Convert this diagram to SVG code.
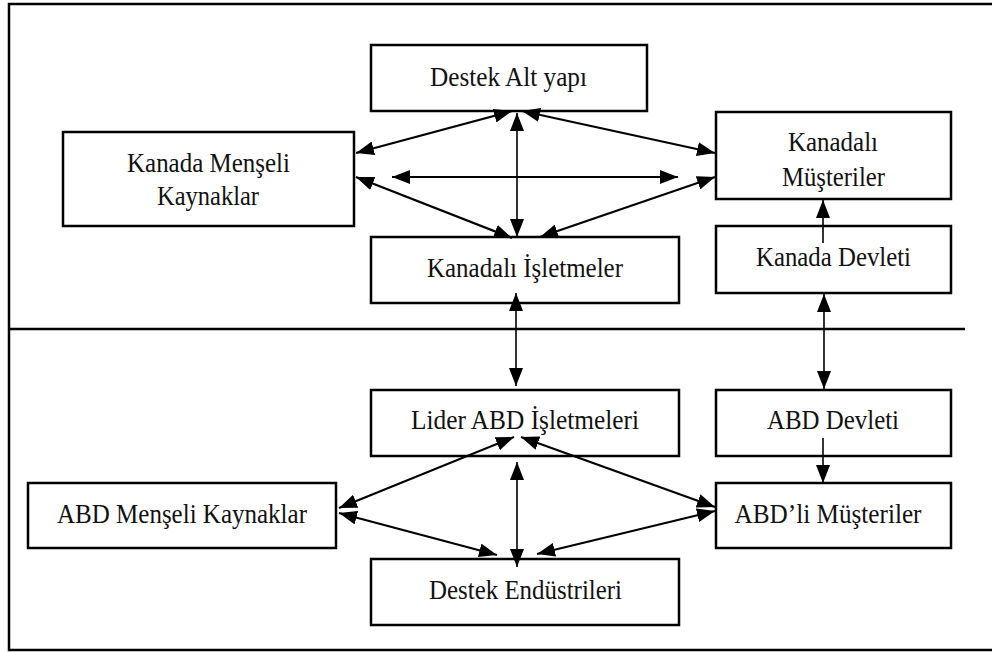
<svg xmlns="http://www.w3.org/2000/svg" width="992" height="652" viewBox="0 0 992 652">
<defs>
<style>
.box{fill:#fff;stroke:#000;stroke-width:2.5}
.frame{fill:none;stroke:#000;stroke-width:2.5}
.lbl{font-family:"Liberation Serif","Times New Roman",serif;font-size:28px;fill:#111;text-anchor:middle}
.c{fill:none;stroke:#000;stroke-width:2.2}
.v{fill:none;stroke:#000;stroke-width:1.6}
</style>
<marker id="ah" viewBox="0 0 18 14" markerWidth="18" markerHeight="14" refX="18" refY="7" orient="auto-start-reverse" markerUnits="userSpaceOnUse">
<path d="M0,0 L18,7 L0,14 z" fill="#000"/>
</marker>
</defs>
<rect width="992" height="652" fill="#fff"/>
<path class="frame" d="M992,4 H9 V650 H992"/>
<line x1="9" y1="329" x2="965" y2="329" stroke="#000" stroke-width="2.5"/>

<g id="destek-alt-yapi">
<rect class="box" x="371" y="45" width="276" height="66"/>
<text class="lbl" x="508.5" y="86" textLength="157" lengthAdjust="spacingAndGlyphs">Destek Alt yapı</text>
</g>
<g id="kanada-menseli">
<rect class="box" x="63" y="132" width="291" height="94"/>
<text class="lbl" x="208.5" y="172" textLength="163" lengthAdjust="spacingAndGlyphs">Kanada Menşeli</text>
<text class="lbl" x="208" y="205" textLength="102" lengthAdjust="spacingAndGlyphs">Kaynaklar</text>
</g>
<g id="kanadali-musteriler">
<rect class="box" x="716" y="112" width="235" height="87"/>
<text class="lbl" x="833" y="151" textLength="90" lengthAdjust="spacingAndGlyphs">Kanadalı</text>
<text class="lbl" x="833.5" y="186" textLength="103" lengthAdjust="spacingAndGlyphs">Müşteriler</text>
</g>
<g id="kanadali-isletmeler">
<rect class="box" x="371" y="237" width="308" height="66"/>
<text class="lbl" x="525" y="277" textLength="196" lengthAdjust="spacingAndGlyphs">Kanadalı İşletmeler</text>
</g>
<g id="kanada-devleti">
<rect class="box" x="716" y="226" width="235" height="67"/>
<text class="lbl" x="833.5" y="266" textLength="155" lengthAdjust="spacingAndGlyphs">Kanada Devleti</text>
</g>
<g id="lider-abd">
<rect class="box" x="371" y="390" width="308" height="66"/>
<text class="lbl" x="525" y="429" textLength="228" lengthAdjust="spacingAndGlyphs">Lider ABD İşletmeleri</text>
</g>
<g id="abd-devleti">
<rect class="box" x="716" y="390" width="235" height="66"/>
<text class="lbl" x="833" y="429" textLength="132" lengthAdjust="spacingAndGlyphs">ABD Devleti</text>
</g>
<g id="abd-menseli">
<rect class="box" x="28" y="483" width="308" height="65"/>
<text class="lbl" x="182" y="523" textLength="250" lengthAdjust="spacingAndGlyphs">ABD Menşeli Kaynaklar</text>
</g>
<g id="abd-musteriler">
<rect class="box" x="716" y="483" width="235" height="65"/>
<text class="lbl" x="828" y="523" textLength="187" lengthAdjust="spacingAndGlyphs">ABD’li Müşteriler</text>
</g>
<g id="destek-endustrileri">
<rect class="box" x="371" y="559" width="308" height="66"/>
<text class="lbl" x="525.5" y="599" textLength="193" lengthAdjust="spacingAndGlyphs">Destek Endüstrileri</text>
</g>

<g id="connectors">
<line class="c" x1="512" y1="111" x2="356" y2="153" marker-start="url(#ah)" marker-end="url(#ah)"/>
<line class="c" x1="522" y1="111" x2="715" y2="153" marker-start="url(#ah)" marker-end="url(#ah)"/>
<line class="c" x1="392" y1="177" x2="678" y2="177" marker-start="url(#ah)" marker-end="url(#ah)"/>
<line class="c" x1="356" y1="177" x2="512" y2="238" marker-start="url(#ah)" marker-end="url(#ah)"/>
<line class="c" x1="715" y1="177" x2="540" y2="237" marker-start="url(#ah)" marker-end="url(#ah)"/>
<line class="v" x1="517" y1="113" x2="517" y2="237" marker-start="url(#ah)" marker-end="url(#ah)"/>
<line class="v" x1="823" y1="243" x2="823" y2="200" marker-end="url(#ah)"/>
<line class="v" x1="516" y1="293" x2="516" y2="386" marker-start="url(#ah)" marker-end="url(#ah)"/>
<line class="v" x1="824" y1="294" x2="824" y2="389" marker-start="url(#ah)" marker-end="url(#ah)"/>
<line class="v" x1="823" y1="438" x2="823" y2="483" marker-end="url(#ah)"/>
<line class="c" x1="514" y1="437" x2="339" y2="508" marker-start="url(#ah)" marker-end="url(#ah)"/>
<line class="c" x1="521" y1="437" x2="715" y2="507" marker-start="url(#ah)" marker-end="url(#ah)"/>
<line class="v" x1="517" y1="462" x2="517" y2="567" marker-start="url(#ah)" marker-end="url(#ah)"/>
<line class="c" x1="339" y1="513" x2="497" y2="555" marker-start="url(#ah)" marker-end="url(#ah)"/>
<line class="c" x1="715" y1="511" x2="537" y2="554" marker-start="url(#ah)" marker-end="url(#ah)"/>
</g>
</svg>
